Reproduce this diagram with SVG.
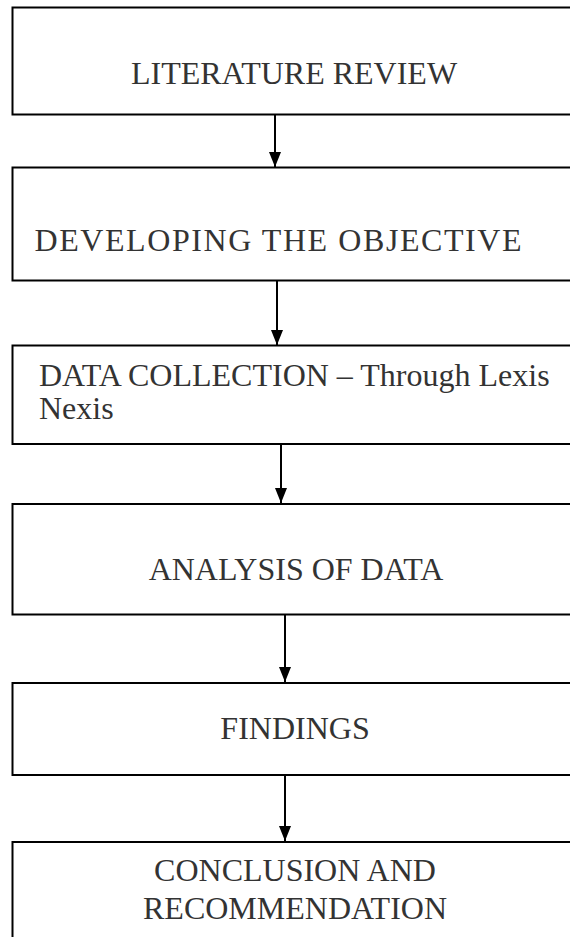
<svg xmlns="http://www.w3.org/2000/svg" width="570" height="937" viewBox="0 0 570 937">
<style>
.box{fill:#fff;stroke:#000;stroke-width:2}
.t{font-family:"Liberation Serif","Times New Roman",serif;font-size:32px;fill:#333}
.c{text-anchor:middle}
.edge{stroke:#000;stroke-width:2;fill:none}
</style>
<defs>
<marker id="ah" viewBox="0 0 15 12" refX="15" refY="6" markerWidth="15" markerHeight="12" markerUnits="userSpaceOnUse" orient="auto">
<path d="M0,0 L15,6 L0,12 Z" fill="#000"/>
</marker>
</defs>
<rect width="570" height="937" fill="#fff"/>
<g id="n1"><rect class="box" x="12.5" y="7.5" width="580" height="107"/><text class="t c" x="294" y="84">LITERATURE REVIEW</text></g>
<g id="n2"><rect class="box" x="12.5" y="167.5" width="580" height="113"/><text class="t" x="34.5" y="251" textLength="487" lengthAdjust="spacing">DEVELOPING THE OBJECTIVE</text></g>
<g id="n3"><rect class="box" x="12.5" y="345.5" width="580" height="98.5"/><text class="t" x="39" y="386">DATA COLLECTION – Through Lexis</text><text class="t" x="39" y="419">Nexis</text></g>
<g id="n4"><rect class="box" x="12.5" y="504" width="580" height="110.5"/><text class="t c" x="296" y="580">ANALYSIS OF DATA</text></g>
<g id="n5"><rect class="box" x="12.5" y="683" width="580" height="92"/><text class="t c" x="295" y="739">FINDINGS</text></g>
<g id="n6"><rect class="box" x="12.5" y="842" width="580" height="110"/><text class="t c" x="295" y="881">CONCLUSION AND</text><text class="t c" x="295" y="919">RECOMMENDATION</text></g>
<g id="edges">
<line class="edge" x1="275" y1="115" x2="275" y2="167" marker-end="url(#ah)"/>
<line class="edge" x1="277" y1="281" x2="277" y2="345" marker-end="url(#ah)"/>
<line class="edge" x1="281" y1="444" x2="281" y2="503" marker-end="url(#ah)"/>
<line class="edge" x1="285" y1="615" x2="285" y2="682" marker-end="url(#ah)"/>
<line class="edge" x1="285" y1="775" x2="285" y2="841" marker-end="url(#ah)"/>
</g>
</svg>
